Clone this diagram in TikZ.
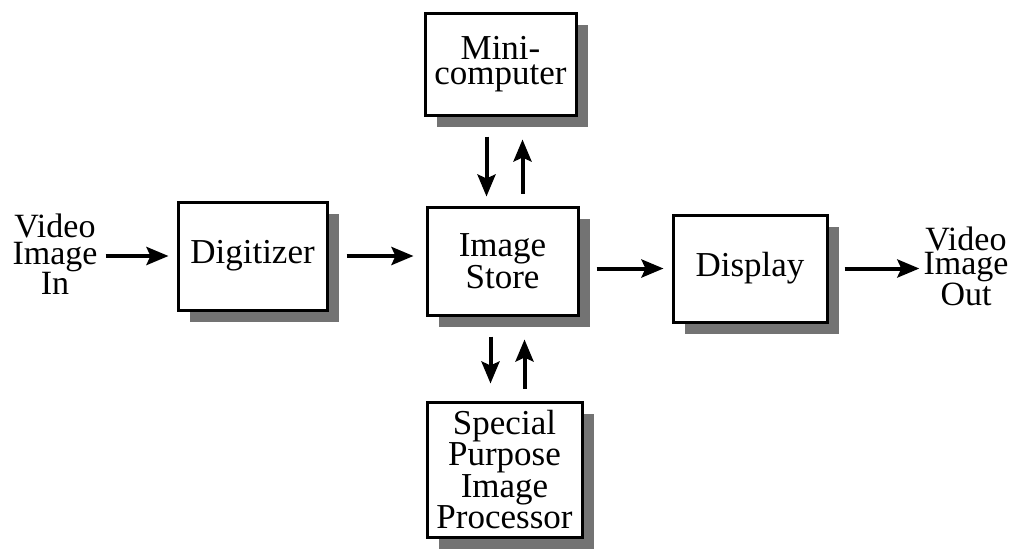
\documentclass[tikz,border=0pt]{standalone}
\usepackage{fontspec}
\setmainfont{Liberation Serif}
\usetikzlibrary{arrows.meta,shadows}
\tikzset{
  blk/.style={draw=black, line width=3pt, fill=white, inner sep=0pt,
    align=center, font=\fontsize{35}{25}\selectfont,
    drop shadow={shadow xshift=12pt, shadow yshift=-12pt, fill=black!55, opacity=1}},
  inlbl/.style={align=center, inner sep=0pt, font=\fontsize{34}{27}\selectfont},
  outlbl/.style={align=center, inner sep=0pt, font=\fontsize{34}{24}\selectfont},
  arr/.style={line width=4pt, -{Stealth[length=22pt,width=18pt,inset=4pt]}}
}
\begin{document}
\begin{tikzpicture}[x=1pt,y=-1pt]
\useasboundingbox[fill=white] (0,0) rectangle (1019,554);
% processing blocks
\node[blk, minimum width=151pt, minimum height=102pt] (mini)  at (500.5,64)  {Mini-\\computer};
\node[blk, minimum width=149pt, minimum height=108pt] (dig)   at (252.5,256) {Digitizer};
\node[blk, minimum width=151pt, minimum height=108pt] (store) at (502.5,261) {Image\\Store};
\node[blk, minimum width=154pt, minimum height=107pt] (disp)  at (750,268.5) {Display};
\node[blk, minimum width=155pt, minimum height=135pt] (spip)  at (504.5,469.5) {Special\\Purpose\\Image\\Processor};
% video input and output
\node[inlbl]  (vin)  at (55,254)  {Video\\Image\\In};
\node[outlbl] (vout) at (966,266) {Video\\Image\\Out};
% data flow along the pipeline
\draw[arr, shorten <=8pt, shorten >=8pt] (vin.east |- dig.west) -- (dig.west);
\draw[arr, shorten <=18pt, shorten >=12pt] (dig.east) -- (dig.east -| store.west);
\draw[arr, shorten <=17pt, shorten >=8pt] (store.east |- disp.west) -- (disp.west);
\draw[arr, shorten <=16pt, shorten >=4pt] (disp.east) -- (disp.east -| vout.west);
% traffic between the store and the computers
\draw[arr, shorten <=20pt, shorten >=9pt] ([xshift=-14pt]mini.south) -- ([xshift=-14pt]mini.south |- store.north);
\draw[arr, shorten <=12pt, shorten >=23pt] ([xshift=20pt]store.north) -- ([xshift=20pt]store.north |- mini.south);
\draw[arr, shorten <=20pt, shorten >=17pt] ([xshift=-12pt]store.south) -- ([xshift=-12pt]store.south |- spip.north);
\draw[arr, shorten <=12pt, shorten >=23pt] ([xshift=20pt]spip.north) -- ([xshift=20pt]spip.north |- store.south);
\end{tikzpicture}
\end{document}
